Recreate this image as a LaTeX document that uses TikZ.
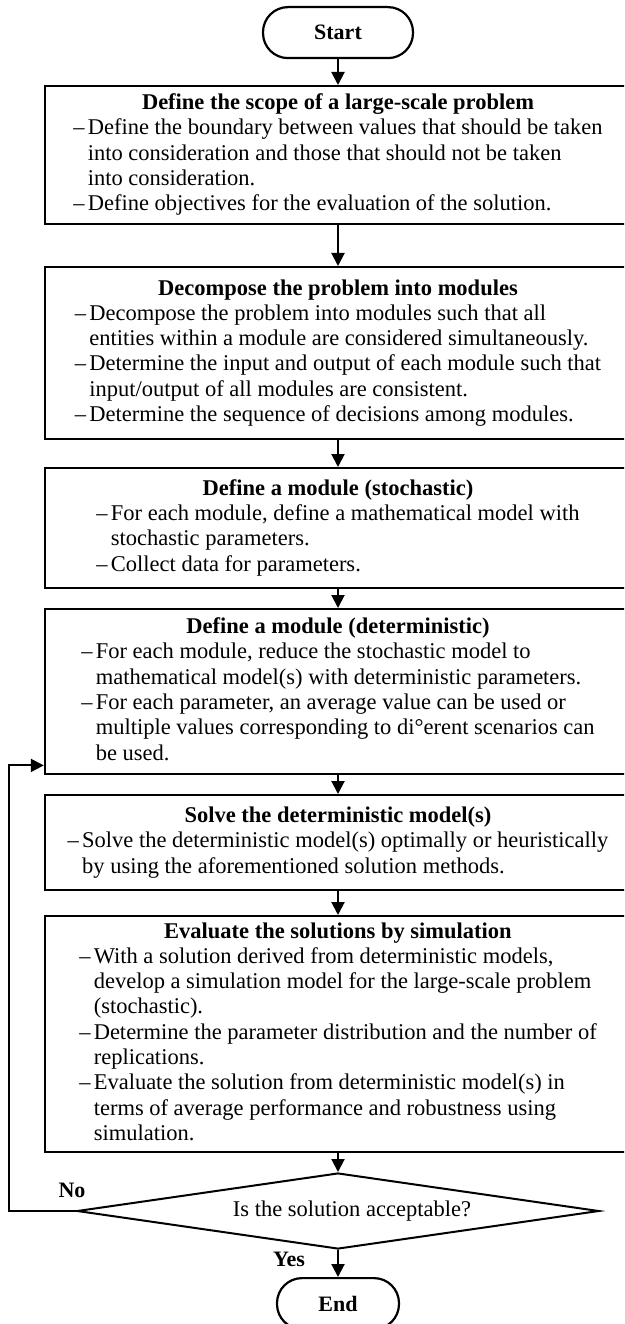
\documentclass[tikz,border=0pt]{standalone}
\usepackage{fontspec}
\setmainfont{Liberation Serif}
\usetikzlibrary{arrows.meta,shapes.geometric,calc}

% bullet lines with a hanging indent
\newcommand\firstln[1]{\makebox[14.5pt][l]{–}#1}
\newcommand\contln[1]{\hspace*{14.5pt}#1}
\newcommand\boxtitle[1]{\multicolumn{1}{@{}c@{}}{\bfseries #1}}

\begin{document}
\begin{tikzpicture}[x=1pt,y=1pt,
  txt/.style={font=\fontsize{22.5}{25.3}\selectfont},
  procbox/.style={draw, line width=2.4pt, minimum width=586pt, inner sep=0pt,
    anchor=north, txt},
  term/.style={draw, line width=2.2pt, rounded corners=25pt, minimum height=51pt,
    inner sep=0pt, anchor=north, font=\fontsize{22}{25.3}\selectfont\bfseries},
  decision/.style={draw, diamond, line width=2pt, shape aspect=7,
    minimum width=522pt, minimum height=76pt, inner sep=0pt, txt},
  arr/.style={line width=2pt, -{Triangle[width=13pt,length=13pt]}},
  lbl/.style={font=\fontsize{22}{25.3}\selectfont\bfseries, inner sep=0pt}]

\useasboundingbox (0,0) rectangle (624,-1324);
\clip (0,0) rectangle (624,-1324);

\node[term, minimum width=150pt] (start) at (338,-6) {Start};

\node[procbox, minimum height=138pt] (b1) at (338,-85) {\begin{tabular}{@{}l@{}}
\boxtitle{Define the scope of a large-scale problem}\\
\firstln{Define the boundary between values that should be taken}\\
\contln{into consideration and those that should not be taken}\\
\contln{into consideration.}\\
\firstln{Define objectives for the evaluation of the solution.}
\end{tabular}};

\node[procbox, minimum height=172pt] (b2) at (338,-266) {\begin{tabular}{@{}l@{}}
\boxtitle{Decompose the problem into modules}\\
\firstln{Decompose the problem into modules such that all}\\
\contln{entities within a module are considered simultaneously.}\\
\firstln{Determine the input and output of each module such that}\\
\contln{input/output of all modules are consistent.}\\
\firstln{Determine the sequence of decisions among modules.}
\end{tabular}};

\node[procbox, minimum height=120pt] (b3) at (338,-467) {\begin{tabular}{@{}l@{}}
\boxtitle{Define a module (stochastic)}\\
\firstln{For each module, define a mathematical model with}\\
\contln{stochastic parameters.}\\
\firstln{Collect data for parameters.}
\end{tabular}};

\node[procbox, minimum height=165pt] (b4) at (338,-608) {\begin{tabular}{@{}l@{}}
\boxtitle{Define a module (deterministic)}\\
\firstln{For each module, reduce the stochastic model to}\\
\contln{mathematical model(s) with deterministic parameters.}\\
\firstln{For each parameter, an average value can be used or}\\
\contln{multiple values corresponding to di°erent scenarios can}\\
\contln{be used.}
\end{tabular}};

\node[procbox, minimum height=95pt] (b5) at (338,-794) {\begin{tabular}{@{}l@{}}
\boxtitle{Solve the deterministic model(s)}\\
\firstln{Solve the deterministic model(s) optimally or heuristically}\\
\contln{by using the aforementioned solution methods.}
\end{tabular}};

\node[procbox, minimum height=236pt] (b6) at (338,-915) {\begin{tabular}{@{}l@{}}
\boxtitle{Evaluate the solutions by simulation}\\
\firstln{With a solution derived from deterministic models,}\\
\contln{develop a simulation model for the large-scale problem}\\
\contln{(stochastic).}\\
\firstln{Determine the parameter distribution and the number of}\\
\contln{replications.}\\
\firstln{Evaluate the solution from deterministic model(s) in}\\
\contln{terms of average performance and robustness using}\\
\contln{simulation.}
\end{tabular}};

% the question sits a little right of the diamond's centre
\node[decision] (dia) at (338,-1211) {\hspace*{28pt}Is the solution acceptable?};

\node[term, minimum width=122pt] (end) at (338,-1277) {End};

\node[lbl] (no) at (72,-1190) {No};
\node[lbl] (yes) at (289,-1259) {Yes};

% main flow
\draw[arr] (start) -- (b1);
\draw[arr] (b1) -- (b2);
\draw[arr] (b2) -- (b3);
\draw[arr] (b3) -- (b4);
\draw[arr] (b4) -- (b5);
\draw[arr] (b5) -- (b6);
\draw[arr] (b6) -- (dia);
\draw[arr] (dia) -- (end);

% loop back when the solution is rejected
\coordinate (loopx) at (9,-1211);
\coordinate (fb) at ($(b4.south west)+(0,10)$);
\draw[arr] (dia.west) -- (loopx) |- (fb);
\end{tikzpicture}
\end{document}
